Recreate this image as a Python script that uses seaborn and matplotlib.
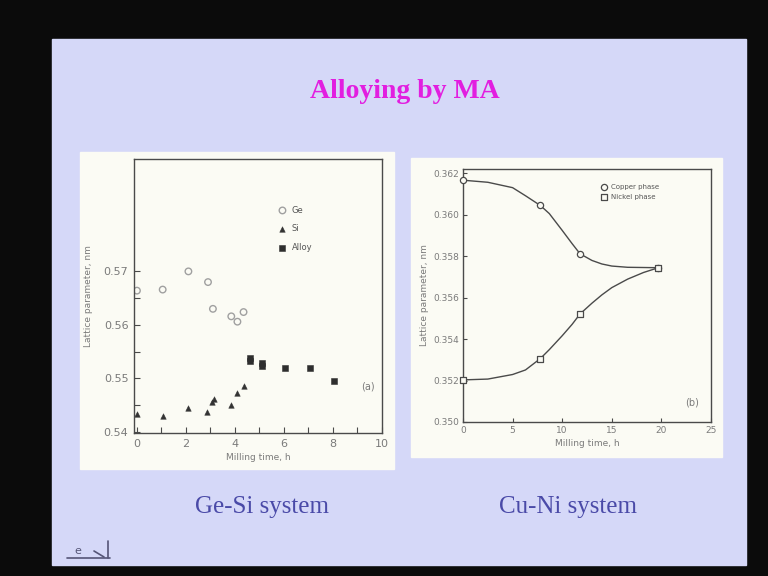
import matplotlib
matplotlib.use('Agg')
import matplotlib.pyplot as plt
import seaborn as sns
from matplotlib.patches import Rectangle
from matplotlib.lines import Line2D

# --- data ---
# (a) Ge-Si system
ge_time = [0.0, 1.05, 2.1, 2.9, 3.1, 3.85, 4.1, 4.35]
ge_lat = [0.5664, 0.5666, 0.5700, 0.5680, 0.5630, 0.5616, 0.5606, 0.5624]
si_time = [0.0, 1.05, 2.1, 2.85, 3.05, 3.15, 3.85, 4.1, 4.35]
si_lat = [0.5434, 0.5430, 0.5445, 0.5437, 0.5455, 0.5462, 0.5450, 0.5473, 0.5486]
alloy_time = [4.6, 4.6, 5.1, 5.1, 6.05, 7.05, 8.05]
alloy_lat = [0.5538, 0.5532, 0.5529, 0.5524, 0.5520, 0.5520, 0.5496]

# (b) Cu-Ni system, measured points
cu_time = [0.0, 7.8, 11.8, 19.7]
cu_lat = [0.36166, 0.36044, 0.35811, 0.35744]
ni_time = [0.0, 7.8, 11.8, 19.7]
ni_lat = [0.35203, 0.35306, 0.35521, 0.35744]
# hand-drawn curves through them
cu_curve_time = [0.0, 2.5, 5.0, 6.3, 7.8, 8.7, 10.0, 11.0, 11.8, 13.0, 14.0, 15.0, 16.6, 19.7]
cu_curve_lat = [0.36166, 0.36156, 0.3613, 0.36091, 0.36044, 0.36005, 0.35924, 0.3586,
                0.35811, 0.35779, 0.35762, 0.35752, 0.35746, 0.35744]
ni_curve_time = [0.0, 2.5, 5.0, 6.3, 7.8, 8.7, 10.0, 11.0, 11.8, 13.0, 14.0, 15.0, 16.6,
                 18.2, 19.7]
ni_curve_lat = [0.35203, 0.35207, 0.35229, 0.35251, 0.35306, 0.35349, 0.35416, 0.35471,
                0.35521, 0.35573, 0.35613, 0.35648, 0.35689, 0.35721, 0.35744]

W, H = 768, 576
sns.set_style('ticks')
plt.rcParams['font.family'] = ['DejaVu Sans']

fig = plt.figure(figsize=(7.68, 5.76), dpi=100, facecolor='#0b0b0b')


def fig_rect(x0, y0, x1, y1, color):
    fig.patches.append(Rectangle((x0 / W, 1 - y1 / H), (x1 - x0) / W, (y1 - y0) / H,
                                 transform=fig.transFigure, color=color, zorder=-5))


# slide and the two scanned panels
fig_rect(52, 39, 746, 565, '#d5d8f8')
fig_rect(80, 152, 394, 469, '#fbfbf4')
fig_rect(411, 158, 722, 457, '#fbfbf4')

fig.text(405 / W, 1 - 92 / H, 'Alloying by MA', color='#e21ee0', fontsize=20,
         fontweight='bold', family='Liberation Serif', ha='center', va='center')
fig.text(262 / W, 1 - 507 / H, 'Ge-Si system', color='#4a4aa8', fontsize=18,
         family='Liberation Serif', ha='center', va='center')
fig.text(568 / W, 1 - 507 / H, 'Cu-Ni system', color='#4a4aa8', fontsize=18,
         family='Liberation Serif', ha='center', va='center')

# little navigation icon bottom-left
for xs, ys in [([67, 110], [558, 558]), ([108, 108], [541, 558]),
               ([94, 104], [551, 557])]:
    fig.add_artist(Line2D([x / W for x in xs], [1 - y / H for y in ys],
                          color='#555577', lw=1.2, transform=fig.transFigure))
fig.text(78 / W, 1 - 551 / H, 'e', color='#555577', fontsize=8, ha='center', va='center')

ink = '#4a4a4a'
txt = '#7a7a7a'

# ---------- (a) Ge-Si ----------
ax1 = fig.add_axes([134 / W, 1 - 433 / H, 248 / W, 274 / H])
ax1.set_facecolor('none')
sns.scatterplot(x=ge_time, y=ge_lat, ax=ax1, marker='o', s=22, facecolor='none',
                edgecolor='#a0a0a0', linewidth=1.0, label='Ge')
sns.scatterplot(x=si_time, y=si_lat, ax=ax1, marker='^', s=16, color='#333333',
                edgecolor='#333333', label='Si')
sns.scatterplot(x=alloy_time, y=alloy_lat, ax=ax1, marker='s', s=22, color='#2e2e2e',
                edgecolor='#2e2e2e', label='Alloy')
ax1.set_xlim(-0.12, 10)
ax1.set_ylim(0.5398, 0.591)
ax1.set_xticks([0, 2, 4, 6, 8, 10])
ax1.set_xticks([1, 3, 5, 7, 9], minor=True)
ax1.set_yticks([0.54, 0.55, 0.56, 0.57])
ax1.set_yticklabels(['0.54', '0.55', '0.56', '0.57'])
ax1.set_yticks([0.545, 0.555, 0.565], minor=True)
ax1.tick_params(which='both', direction='in', color=ink, labelcolor=txt, labelsize=8,
                length=4, width=0.8, pad=4)
ax1.set_xlabel('Milling time, h', fontsize=6.5, color=txt, labelpad=3)
ax1.set_ylabel('Lattice parameter, nm', fontsize=6.5, color=txt, labelpad=8)
for sp in ax1.spines.values():
    sp.set_color(ink)
    sp.set_linewidth(1.0)
ax1.text(0.945, 0.17, '(a)', transform=ax1.transAxes, fontsize=7, color=txt,
         ha='center', va='center')
leg1 = ax1.legend(loc='upper left', bbox_to_anchor=(0.565, 0.845), frameon=False,
                  fontsize=6, labelspacing=1.15, handletextpad=0.6, handlelength=1.0,
                  borderpad=0)
for t in leg1.get_texts():
    t.set_color('#555555')

# ---------- (b) Cu-Ni ----------
ax2 = fig.add_axes([463 / W, 1 - 422 / H, 248 / W, 253 / H])
ax2.set_facecolor('none')
sns.lineplot(x=cu_curve_time, y=cu_curve_lat, ax=ax2, color=ink, lw=1.0,
             solid_joinstyle='round')
sns.lineplot(x=ni_curve_time, y=ni_curve_lat, ax=ax2, color=ink, lw=1.0,
             solid_joinstyle='round')
sns.scatterplot(x=cu_time, y=cu_lat, ax=ax2, marker='o', s=20, facecolor='#fbfbf4',
                edgecolor=ink, linewidth=0.9, label='Copper phase', zorder=3,
                clip_on=False)
sns.scatterplot(x=ni_time, y=ni_lat, ax=ax2, marker='s', s=20, facecolor='#fbfbf4',
                edgecolor=ink, linewidth=0.9, label='Nickel phase', zorder=3,
                clip_on=False)
ax2.set_xlim(0, 25)
ax2.set_ylim(0.350, 0.3622)
ax2.set_xticks([0, 5, 10, 15, 20, 25])
ax2.set_yticks([0.350, 0.352, 0.354, 0.356, 0.358, 0.360, 0.362])
ax2.set_yticklabels(['0.350', '0.352', '0.354', '0.356', '0.358', '0.360', '0.362'])
ax2.tick_params(which='both', direction='in', color=ink, labelcolor=txt, labelsize=6.5,
                length=3, width=0.8, pad=3)
ax2.set_xlabel('Milling time, h', fontsize=6.5, color=txt, labelpad=3)
ax2.set_ylabel('Lattice parameter, nm', fontsize=6.5, color=txt, labelpad=3)
for sp in ax2.spines.values():
    sp.set_color(ink)
    sp.set_linewidth(1.0)
ax2.text(0.925, 0.077, '(b)', transform=ax2.transAxes, fontsize=7, color=txt,
         ha='center', va='center')
leg2 = ax2.legend(loc='upper left', bbox_to_anchor=(0.54, 0.955), frameon=False,
                  fontsize=5, labelspacing=0.6, handletextpad=0.5, handlelength=1.0,
                  borderpad=0)
for t in leg2.get_texts():
    t.set_color('#555555')

fig.savefig('out.png', dpi=100, facecolor=fig.get_facecolor())
